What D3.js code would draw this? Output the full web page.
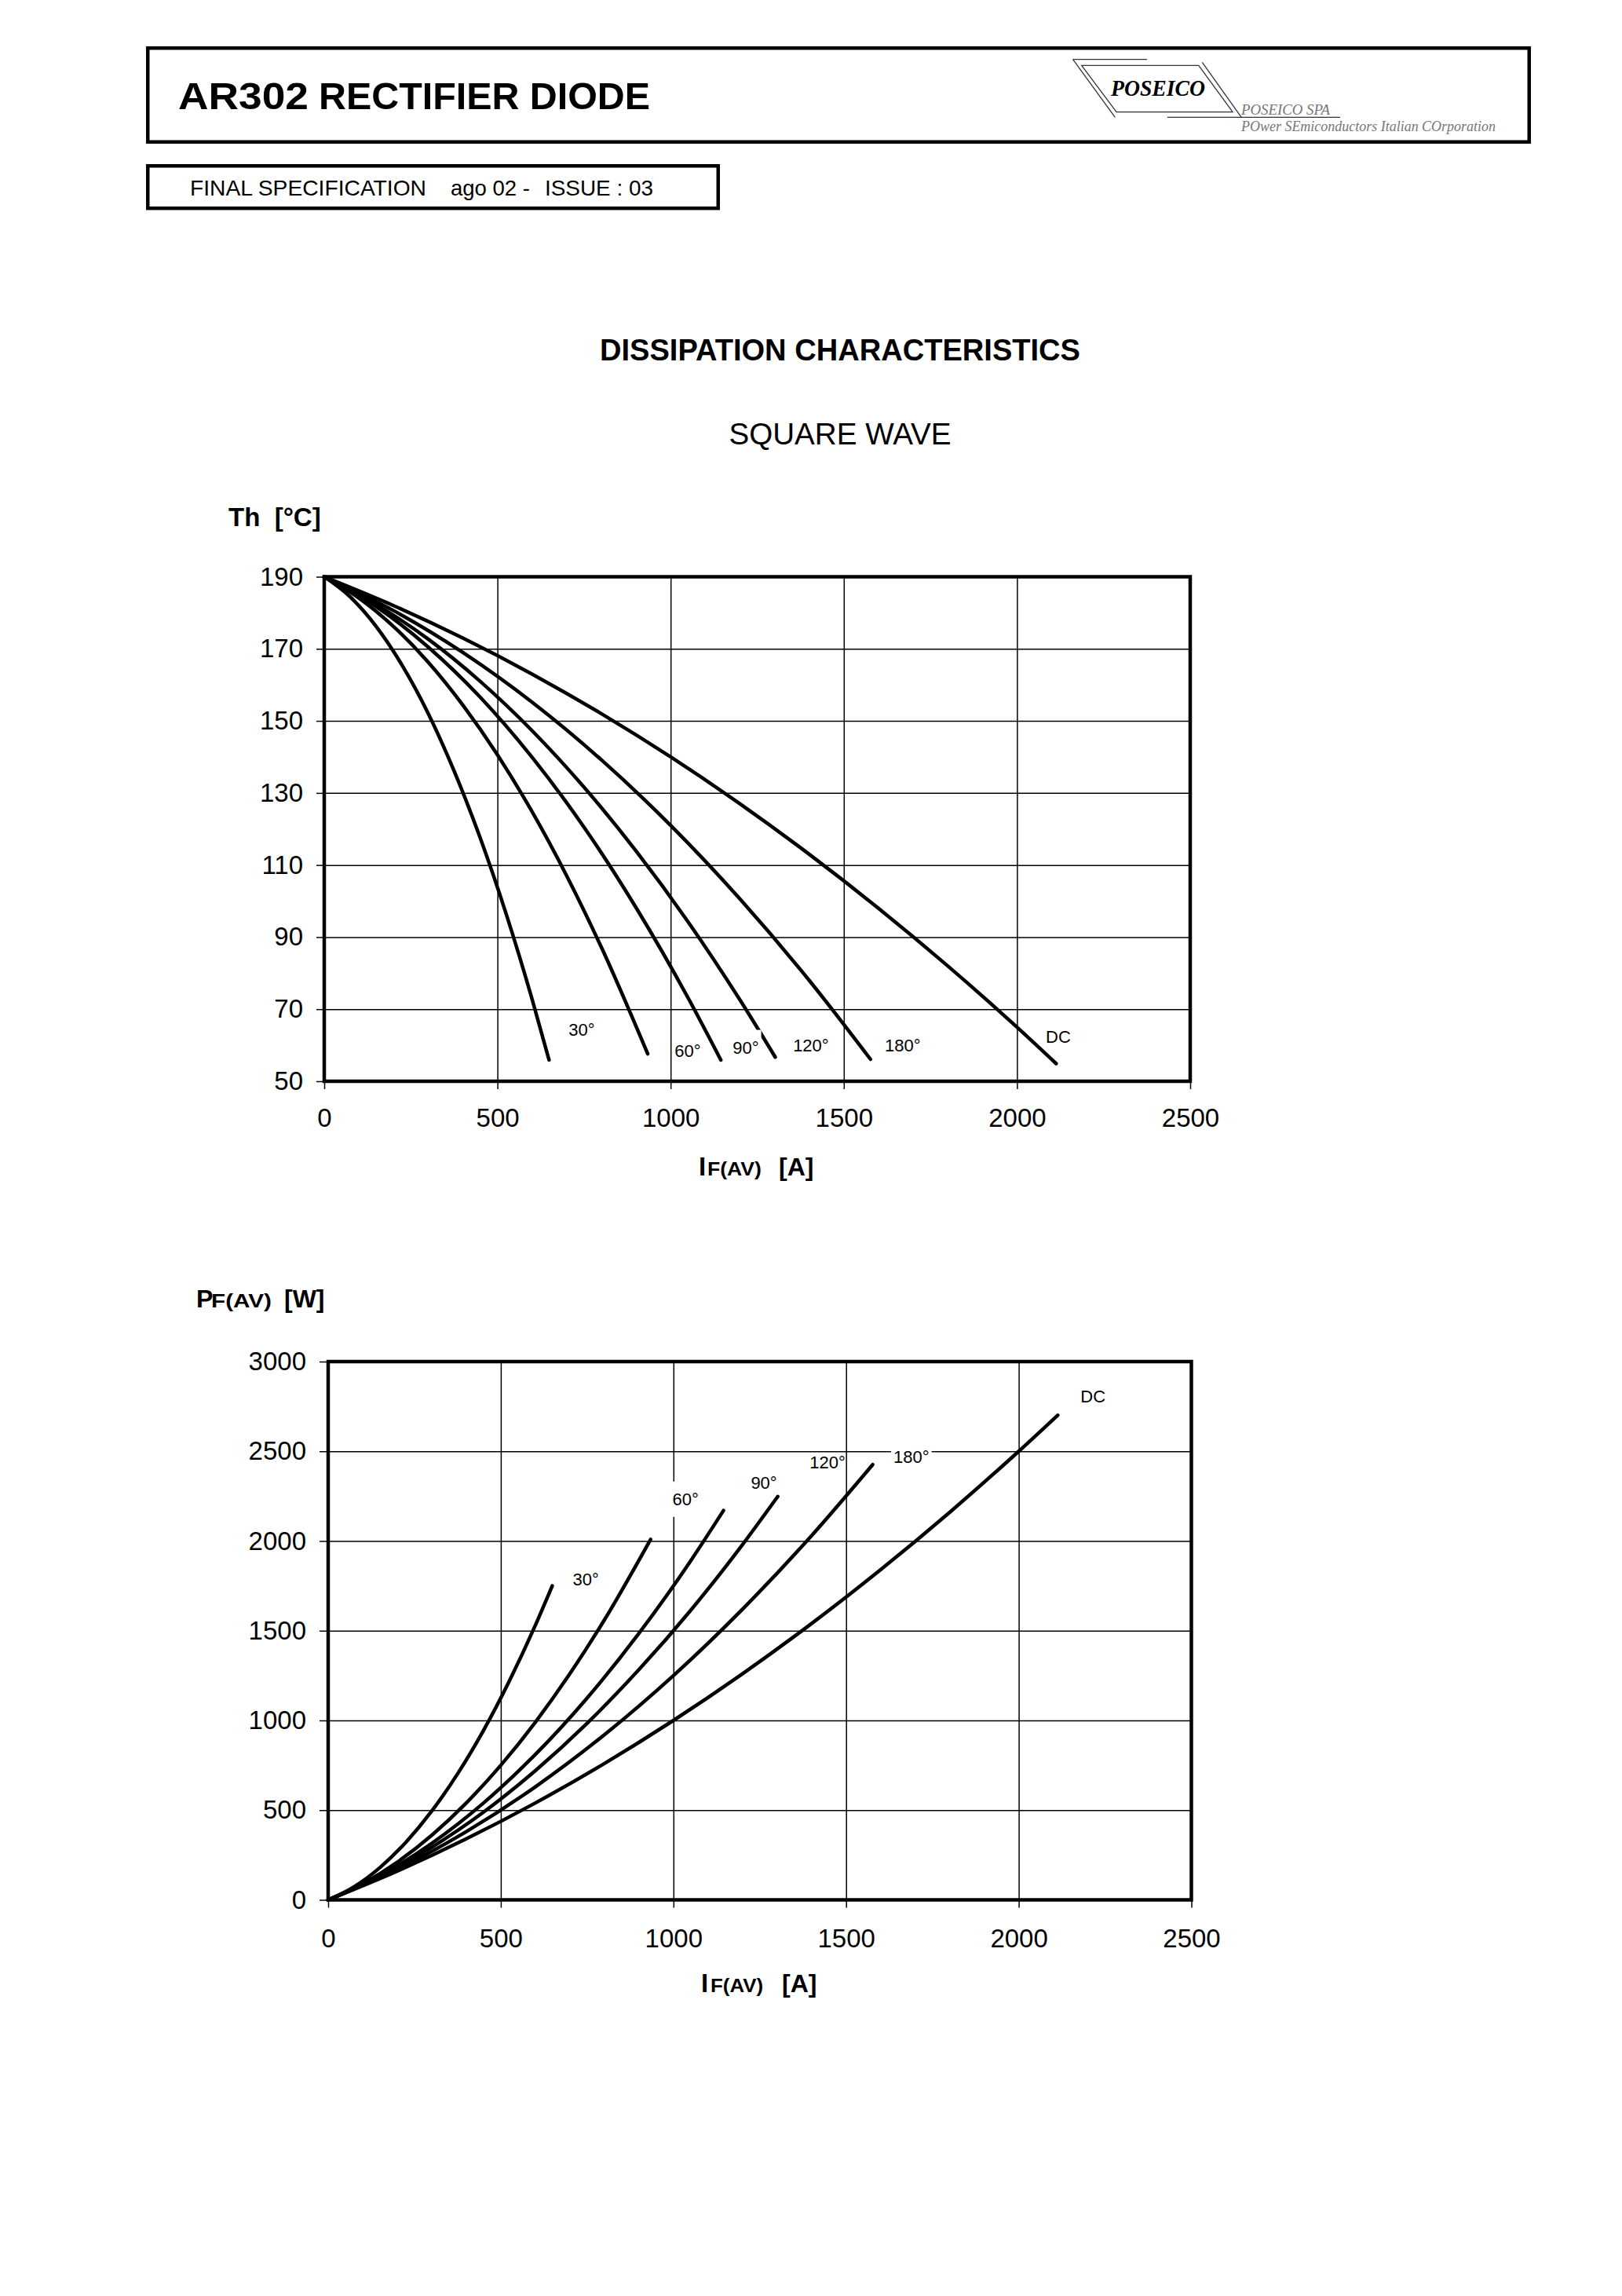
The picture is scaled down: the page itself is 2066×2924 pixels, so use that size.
<!DOCTYPE html>
<html><head><meta charset="utf-8">
<script src="https://cdn.jsdelivr.net/npm/d3@7"></script>
<style>
html,body{margin:0;padding:0;background:#fff;}
svg{display:block;}
</style></head><body>
<svg id="c" width="2066" height="2924" font-family="'Liberation Sans',Arial,sans-serif"></svg>
<script>
// ---------------- data ----------------
const seriesNames = ["30°", "60°", "90°", "120°", "180°", "DC"];
const xTicks  = [0, 500, 1000, 1500, 2000, 2500];
const thTicks = [50, 70, 90, 110, 130, 150, 170, 190];
const pfTicks = [0, 500, 1000, 1500, 2000, 2500, 3000];

// IF(AV) [A] sample points per curve
const cur30  = [0, 75, 150, 225, 300, 375, 450, 525, 600, 649];
const cur60  = [0, 100, 200, 300, 400, 500, 600, 700, 800, 934];
const cur90  = [0, 150, 300, 450, 600, 750, 900, 1050, 1145];
const cur120 = [0, 150, 300, 450, 600, 750, 900, 1050, 1200, 1302];
const cur180 = [0, 200, 400, 600, 800, 1000, 1200, 1400, 1577];
const curDC  = [0, 200, 400, 600, 800, 1000, 1200, 1400, 1600, 1800, 2000, 2113];

// Th [°C] (upper chart)
const th30  = [190, 184.4, 176.2, 165.4, 152.1, 136.1, 117.6, 96.5, 72.8, 55.9];
const th60  = [190, 184.1, 176.2, 166.3, 154.4, 140.6, 124.8, 107.0, 87.2, 57.6];
const th90  = [190, 181.7, 170.5, 156.6, 139.9, 120.5, 98.2, 73.2, 55.9];
const th120 = [190, 182.3, 172.7, 161.0, 147.3, 131.6, 113.9, 94.3, 72.6, 56.7];
const th180 = [190, 180.6, 169.0, 155.2, 139.2, 121.0, 100.6, 78.0, 56.1];
const thDC  = [190, 182.0, 173.0, 163.0, 152.0, 140.0, 127.0, 113.0, 98.0, 82.0, 65.0, 54.9];

// PF(AV) [W] (lower chart)
const pf30  = [0, 73, 180, 321, 495, 703, 945, 1221, 1530, 1750];
const pf60  = [0, 90, 210, 360, 540, 750, 990, 1260, 1560, 2009];
const pf90  = [0, 135, 315, 540, 810, 1125, 1485, 1890, 2170];
const pf120 = [0, 129, 293, 489, 720, 984, 1283, 1614, 1980, 2248];
const pf180 = [0, 170, 380, 630, 920, 1250, 1620, 2030, 2426];
const pfDC  = [0, 160, 340, 540, 760, 1000, 1260, 1540, 1840, 2160, 2500, 2701];

const currents = [cur30, cur60, cur90, cur120, cur180, curDC];
const thSeries = [th30, th60, th90, th120, th180, thDC];
const pfSeries = [pf30, pf60, pf90, pf120, pf180, pfDC];

// ---------------- page ----------------
const SANS = "'Liberation Sans',Arial,sans-serif";
const SERIF = "'Liberation Serif','Times New Roman',serif";
const svg = d3.select("#c");
svg.append("rect").attr("width", 2066).attr("height", 2924).attr("fill", "#fff");

// header box
svg.append("rect").attr("x", 188.25).attr("y", 61.25).attr("width", 1759.5).attr("height", 119.5)
  .attr("fill", "none").attr("stroke", "#000").attr("stroke-width", 4.5);
svg.append("text").attr("x", 227).attr("y", 139).attr("font-size", 48).attr("font-weight", "bold")
  .attr("textLength", 166).attr("lengthAdjust", "spacingAndGlyphs").text("AR302");
svg.append("text").attr("x", 406).attr("y", 139).attr("font-size", 48).attr("font-weight", "bold")
  .attr("textLength", 422).attr("lengthAdjust", "spacingAndGlyphs").text("RECTIFIER DIODE");

// logo
const logo = svg.append("g").attr("stroke", "#333").attr("stroke-width", 1.3).attr("fill", "none");
const logoLines = [
  [1366.6, 75.7, 1461, 75.7],
  [1366.6, 75.7, 1420.3, 149.3],
  [1531.3, 79.3, 1581.2, 149.3],
  [1486.9, 149.3, 1707, 149.3]
];
logoLines.forEach(l => logo.append("line").attr("x1", l[0]).attr("y1", l[1]).attr("x2", l[2]).attr("y2", l[3]));
logo.append("polygon").attr("points", "1377.7,83.3 1526.8,83.3 1570.1,142.7 1422.1,142.7");
svg.append("text").attr("x", 1415).attr("y", 121.7).style("font-family", SERIF)
  .attr("font-size", 30).attr("font-weight", "bold").attr("font-style", "italic")
  .attr("textLength", 120).attr("lengthAdjust", "spacingAndGlyphs").text("POSEICO");
svg.append("text").attr("x", 1581).attr("y", 146).style("font-family", SERIF)
  .attr("font-size", 18).attr("font-style", "italic").attr("fill", "#777")
  .attr("textLength", 113).attr("lengthAdjust", "spacingAndGlyphs").text("POSEICO SPA");
svg.append("text").attr("x", 1581).attr("y", 167).style("font-family", SERIF)
  .attr("font-size", 18).attr("font-style", "italic").attr("fill", "#777")
  .attr("textLength", 324).attr("lengthAdjust", "spacingAndGlyphs").text("POwer SEmiconductors Italian COrporation");

// sub header
svg.append("rect").attr("x", 188.25).attr("y", 211.25).attr("width", 726.5).attr("height", 54)
  .attr("fill", "none").attr("stroke", "#000").attr("stroke-width", 4.5);
[["FINAL SPECIFICATION", 242, 301], ["ago 02 -", 574, 101], ["ISSUE : 03", 694, 138]].forEach(t => {
  svg.append("text").attr("x", t[1]).attr("y", 249).attr("font-size", 28)
    .attr("textLength", t[2]).attr("lengthAdjust", "spacingAndGlyphs").text(t[0]);
});

// titles
svg.append("text").attr("x", 1070).attr("y", 459).attr("text-anchor", "middle").attr("font-size", 39.5)
  .attr("font-weight", "bold").attr("textLength", 612).attr("lengthAdjust", "spacingAndGlyphs")
  .text("DISSIPATION CHARACTERISTICS");
svg.append("text").attr("x", 1070).attr("y", 566).attr("text-anchor", "middle").attr("font-size", 38)
  .attr("textLength", 283).attr("lengthAdjust", "spacingAndGlyphs").text("SQUARE WAVE");

// ---------------- chart helper ----------------
function drawChart(o) {
  const g = svg.append("g");
  const x = d3.scaleLinear().domain([0, 2500]).range([o.left, o.right]);
  const y = d3.scaleLinear().domain(o.yDomain).range([o.bottom, o.top]);
  const W = o.right - o.left, H = o.bottom - o.top;

  // grid
  g.append("g").attr("transform", `translate(0,${o.bottom})`)
    .call(d3.axisBottom(x).tickValues(xTicks).tickSize(-H).tickFormat(""))
    .call(s => s.select(".domain").remove())
    .selectAll("line").attr("stroke", "#000").attr("stroke-width", 1.5);
  g.append("g").attr("transform", `translate(${o.left},0)`)
    .call(d3.axisLeft(y).tickValues(o.yTicks).tickSize(-W).tickFormat(""))
    .call(s => s.select(".domain").remove())
    .selectAll("line").attr("stroke", "#000").attr("stroke-width", 1.5);

  // outward ticks + labels
  const fx = g.append("g").attr("transform", `translate(0,${o.bottom})`)
    .call(d3.axisBottom(x).tickValues(xTicks).tickSize(10).tickPadding(o.xPad).tickFormat(d3.format("d")));
  const fy = g.append("g").attr("transform", `translate(${o.left},0)`)
    .call(d3.axisLeft(y).tickValues(o.yTicks).tickSize(o.yTick).tickPadding(o.yPad).tickFormat(d3.format("d")));
  [fx, fy].forEach(a => {
    a.select(".domain").remove();
    a.attr("font-size", 33).attr("font-family", SANS);
    a.selectAll("line").attr("stroke", "#000").attr("stroke-width", 1.5);
    a.selectAll("text").attr("fill", "#000");
  });

  // frame
  g.append("rect").attr("x", o.left).attr("y", o.top).attr("width", W).attr("height", H)
    .attr("fill", "none").attr("stroke", "#000").attr("stroke-width", 4.5);

  // curves
  const line = d3.line().x(d => x(d[0])).y(d => y(d[1])).curve(d3.curveMonotoneX);
  o.series.forEach((vals, i) => {
    g.append("path").datum(d3.zip(currents[i], vals)).attr("d", line)
      .attr("fill", "none").attr("stroke", "#000").attr("stroke-width", 4.5)
      .attr("stroke-linecap", "round").attr("stroke-linejoin", "round");
  });

  // curve labels
  seriesNames.forEach((nm, i) => {
    const p = o.labelPos[i];
    const t = g.append("text").attr("x", x(p[0])).attr("y", y(p[1])).attr("dy", "0.35em")
      .attr("text-anchor", "middle").attr("font-size", 22).text(nm);
    if (o.labelBg[i]) {
      const b = t.node().getBBox();
      g.insert("rect", () => t.node()).attr("x", b.x - 3).attr("y", b.y - 10)
        .attr("width", b.width + 6).attr("height", b.height + 20).attr("fill", "#fff");
    }
  });
}

function axisLabel(x0, base, parts) {
  parts.forEach(p => {
    const t = svg.append("text").attr("x", x0 + p.dx).attr("y", base).attr("font-size", p.fs)
      .attr("font-weight", "bold").style("white-space", "pre").text(p.t);
    if (p.len) t.attr("textLength", p.len).attr("lengthAdjust", "spacingAndGlyphs");
  });
}

// ---------------- upper chart ----------------
axisLabel(291, 670, [{t: "Th  [°C]", dx: 0, fs: 33}]);
drawChart({
  left: 413, right: 1516, top: 734.5, bottom: 1377,
  yDomain: [50, 190], yTicks: thTicks, series: thSeries,
  xPad: 25, yTick: 10, yPad: 17,
  labelPos: [[743, 64.4], [1049, 58.5], [1217, 59.4], [1405, 60.0], [1670, 60.0], [2119, 62.4]],
  labelBg: [false, false, true, false, false, false]
});
axisLabel(890, 1497, [{t: "I", dx: 0, fs: 33}, {t: "F(AV)", dx: 11, fs: 23, len: 69}, {t: "[A]", dx: 102, fs: 32}]);

// ---------------- lower chart ----------------
axisLabel(250, 1665, [{t: "P", dx: 0, fs: 32}, {t: "F(AV)", dx: 19, fs: 23, len: 77}, {t: "[W]", dx: 112, fs: 32}]);
drawChart({
  left: 418, right: 1517.5, top: 1734, bottom: 2419.5,
  yDomain: [0, 3000], yTicks: pfTicks, series: pfSeries,
  xPad: 27, yTick: 11, yPad: 17,
  labelPos: [[746, 1788], [1035, 2234], [1262, 2326], [1446, 2440], [1689, 2471], [2215, 2807]],
  labelBg: [false, true, false, false, true, false]
});
axisLabel(893, 2537, [{t: "I", dx: 0, fs: 33}, {t: "F(AV)", dx: 12, fs: 23, len: 67}, {t: "[A]", dx: 103, fs: 32}]);
</script>
</body></html>
